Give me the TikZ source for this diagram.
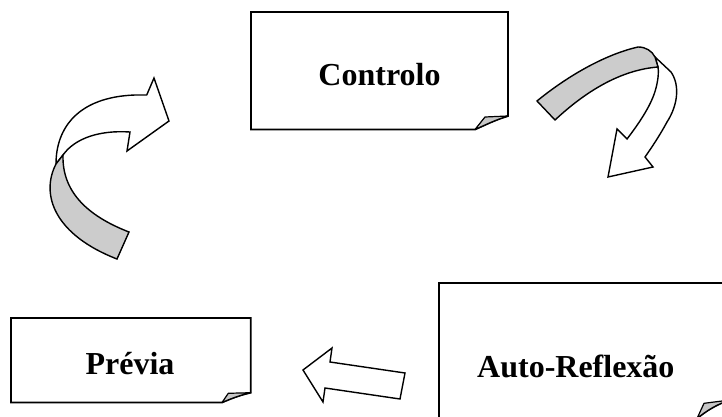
\documentclass[tikz,border=0pt]{standalone}
\usepackage{fontspec}
\setmainfont{Liberation Serif}
\begin{document}
\begin{tikzpicture}[x=1pt,y=-1pt,
  boxline/.style={draw=black,line width=1.8pt,fill=white,line join=miter},
  foldfill/.style={draw=black,line width=1.2pt,fill=black!22,line join=round},
  arrowline/.style={draw=black,line width=1.4pt,line join=miter},
  band/.style={arrowline,fill=black!20},
  label/.style={font=\fontsize{32}{37}\selectfont\bfseries,inner sep=0pt}]
\useasboundingbox (0,0) rectangle (722,417);
\clip (0,0) rectangle (722,417);
\fill[white] (0,0) rectangle (722,417);

% Controlo box
\path[boxline] (251,12) -- (508,12) -- (508,116)
  .. controls (495,120) and (485,125) .. (475,129.5) -- (251,129.5) -- cycle;
\path[foldfill] (475,129.5) -- (485,117) -- (508,116)
  .. controls (495,120) and (485,125) .. (475,129.5) -- cycle;
\node[label,anchor=base] (controlo) at (379.5,86) {Controlo};

% Previa box
\path[boxline] (11,318) -- (250.7,318) -- (250.7,392.7)
  .. controls (240,395) and (230,399) .. (222,402.5) -- (11,402.5) -- cycle;
\path[foldfill] (222,402.5) -- (228.3,393.3) -- (250.7,392.7)
  .. controls (240,395) and (230,399) .. (222,402.5) -- cycle;
\node[label,anchor=base] (previa) at (130,374) {Prévia};

% Auto-Reflexao box
\path[boxline] (439,283) -- (730,283) -- (730,400)
  .. controls (717,404) and (706,411) .. (697,418.5) -- (439,418.5) -- cycle;
\path[foldfill] (697,418.5) -- (704,403.3) -- (730,400)
  .. controls (717,404) and (706,411) .. (697,418.5) -- cycle;
\node[label,anchor=base west] (auto) at (477,377) {Auto-Reflexão};

% straight arrow pointing left
\path[arrowline,fill=white] (303,370) -- (332,348) -- (330,362) -- (405,373)
  -- (400,399) -- (325,388) -- (323,402) -- cycle;

% right curved arrow
\path[arrowline,fill=white] (655,57) -- (671,72)
  .. controls (680,85) and (678,105) .. (667,122)
  .. controls (660,135) and (652,147) .. (645,157)
  -- (653,167) -- (608,177) -- (617,129) -- (627,139)
  .. controls (640,122) and (652,104) .. (656,88)
  .. controls (658,80) and (659,72) .. (658,67) -- cycle;
\path[band] (537,101) .. controls (565,78) and (603,55) .. (638,47)
  .. controls (646,47) and (652,51) .. (655,57) -- (658,67)
  .. controls (620,70) and (585,92) .. (555,120) -- cycle;

% left curved arrow
\path[arrowline,fill=white] (56,164) .. controls (56,128) and (78,97) .. (135,95)
  -- (146.7,95) -- (154,78) -- (169,121) -- (127,151) -- (130,132)
  .. controls (100,130) and (75,138) .. (63,155) -- cycle;
\path[band] (117,259) .. controls (55,235) and (40,195) .. (56,164)
  -- (63,155) .. controls (62,190) and (85,215) .. (129,232) -- cycle;
\end{tikzpicture}
\end{document}
